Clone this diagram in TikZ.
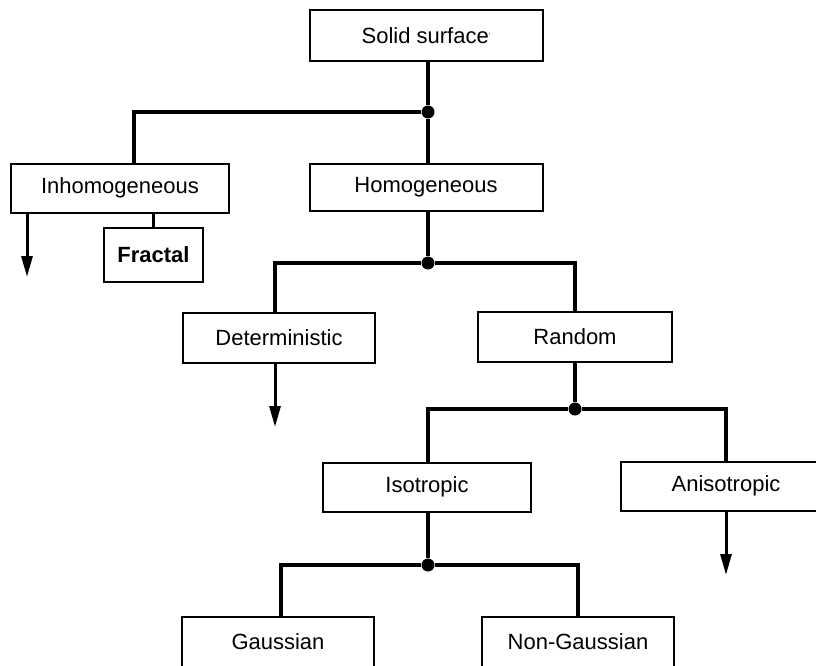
\documentclass[tikz,border=0pt]{standalone}
\usepackage{fontspec}
\setmainfont{Liberation Sans}
\usetikzlibrary{arrows.meta,positioning}
\tikzset{>={Triangle[length=21pt,width=11pt]},
  every node/.style={font=\fontsize{22}{26}\selectfont},
  box/.style={draw,line width=2pt,minimum height=49pt,inner sep=0pt,fill=white},
  link/.style={line width=3.2pt},
  junction/.style={circle,fill,inner sep=0pt,minimum size=13pt},
  down/.style={->,line width=3pt}}
\begin{document}
\begin{tikzpicture}[x=1pt,y=-1pt]
\useasboundingbox (0,0) rectangle (816,666);
\node[box,minimum width=233pt,minimum height=51pt] (surf) at (426,36) {Solid surface\raisebox{5pt}{\scriptsize'}};
\node[box,minimum width=218pt] (inhom) at (120,188) {Inhomogeneous};
\node[box,minimum width=233pt,minimum height=47pt] (hom) at (426,187) {Homogeneous};
\node[box,minimum width=99pt,minimum height=54pt,font=\fontsize{22}{26}\selectfont\bfseries] (frac) at (153.5,255) {Fractal};
\node[box,minimum width=192pt,minimum height=50pt] (det) at (279,338) {Deterministic};
\node[box,minimum width=194pt,minimum height=50pt] (rand) at (575,337) {Random};
\node[box,minimum width=208pt] (iso) at (427,487) {Isotropic};
\node[box,minimum width=210pt] (aniso) at (726,486) {Anisotropic};
\node[box,minimum width=192pt,minimum height=50pt] (gauss) at (278,642) {Gaussian};
\node[box,minimum width=192pt,minimum height=50pt] (nongauss) at (578,642) {Non-Gaussian};
\node[junction] (j1) at (428,112) {};
\node[junction] (j2) at (428,263) {};
\node[junction] (j3) at (575,409) {};
\node[junction] (j4) at (428,565) {};
\coordinate (inhomend) at (27,277);
\coordinate (detend) at (275,427);
\coordinate (anisoend) at (726,575);
\draw[link] (surf.south -| j1) -- (j1);
\draw[link] (j1) -| (134,0 |- inhom.north);
\draw[link] (j1) -- (hom.north -| j1);
\draw[link] (frac.north) -- (frac.north |- inhom.south);
\draw[down] (inhom.south -| inhomend) -- (inhomend);
\draw[link] (hom.south -| j2) -- (j2);
\draw[link] (j2) -| (det.north -| detend);
\draw[link] (j2) -| (rand.north);
\draw[down] (det.south -| detend) -- (detend);
\draw[link] (rand.south) -- (j3);
\draw[link] (j3) -| (iso.north -| j4);
\draw[link] (j3) -| (aniso.north -| anisoend);
\draw[down] (aniso.south -| anisoend) -- (anisoend);
\draw[link] (iso.south -| j4) -- (j4);
\draw[link] (j4) -| (281,0 |- gauss.north);
\draw[link] (j4) -| (nongauss.north);
\end{tikzpicture}
\end{document}
